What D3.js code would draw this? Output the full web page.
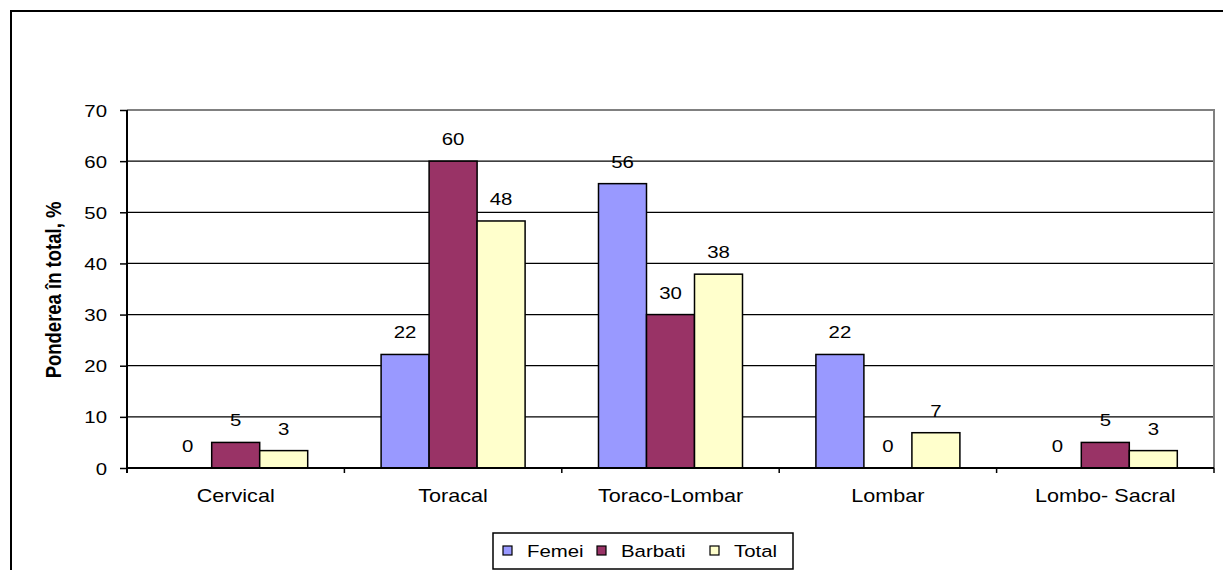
<!DOCTYPE html>
<html>
<head>
<meta charset="utf-8">
<script src="https://cdn.jsdelivr.net/npm/d3@7"></script>
<style>
  html, body { margin: 0; padding: 0; background: #fff; }
  svg { display: block; font-family: "Liberation Sans", Arial, sans-serif; }
</style>
</head>
<body>
<svg id="chart" width="1223" height="570"></svg>
<script>
// Spinal injury level, share of total (%)
const categories = ["Cervical", "Toracal", "Toraco-Lombar", "Lombar", "Lombo- Sacral"];
const seriesNames = ["Femei", "Barbati", "Total"];
const femei   = [0, 22.2, 55.6, 22.2, 0];
const barbati = [5, 60, 30, 0, 5];
const total   = [3.4, 48.3, 37.9, 6.9, 3.4];
const yTicks  = [0, 10, 20, 30, 40, 50, 60, 70];
const colors  = ["#9999FF", "#993366", "#FFFFCC"];

const series = [femei, barbati, total];
const svg = d3.select("#chart");

const plot = { left: 127, right: 1214, top: 110, bottom: 468 };
const SX = 1.2; // horizontal glyph stretch

// outer frame
svg.append("rect")
  .attr("x", 11).attr("y", 11).attr("width", 1240).attr("height", 600)
  .attr("fill", "none").attr("stroke", "#000").attr("stroke-width", 2);

const x = d3.scaleBand().domain(categories).range([plot.left, plot.right]).padding(0);
const groupW = 144;
const xs = d3.scaleBand().domain(seriesNames).range([0, groupW]).padding(0);
const y = d3.scaleLinear().domain([0, 70]).range([plot.bottom, plot.top]);

// gridlines
svg.append("g").selectAll("line").data(yTicks.filter(t => t > 0 && t < 70)).join("line")
  .attr("x1", plot.left).attr("x2", plot.right)
  .attr("y1", d => y(d)).attr("y2", d => y(d))
  .attr("stroke", "#000").attr("stroke-width", 1.3);

// plot border (top & right)
svg.append("path")
  .attr("d", `M${plot.left},${y(70)}H${plot.right}V${plot.bottom}`)
  .attr("fill", "none").attr("stroke", "#808080").attr("stroke-width", 2);

// bars
const gBars = svg.append("g");
categories.forEach((c, i) => {
  const gx = x(c) + (x.bandwidth() - groupW) / 2;
  series.forEach((s, j) => {
    const v = s[i];
    const bx = gx + xs(seriesNames[j]);
    if (v > 0) {
      gBars.append("rect")
        .attr("x", bx).attr("y", y(v))
        .attr("width", xs.bandwidth()).attr("height", y(0) - y(v))
        .attr("fill", colors[j]).attr("stroke", "#000").attr("stroke-width", 1.5);
    }
    gBars.append("text")
      .attr("transform", `translate(${bx + xs.bandwidth() / 2},${y(v) - 16}) scale(${SX},1)`)
      .attr("text-anchor", "middle").attr("font-size", 17)
      .text(d3.format(".0f")(v));
  });
});

// y axis
const yAxis = svg.append("g").attr("transform", `translate(${plot.left},0)`)
  .call(d3.axisLeft(y).tickValues(yTicks).tickSize(7).tickFormat(""));
yAxis.select(".domain").attr("stroke", "#000").attr("stroke-width", 2)
  .attr("d", `M0,${y(70)}V${y(0) + 5}`);
yAxis.selectAll(".tick line").attr("stroke", "#000").attr("stroke-width", 1.5);
yAxis.selectAll(".tick").append("text")
  .attr("fill", "#000").attr("font-size", 17).attr("text-anchor", "end")
  .attr("transform", `translate(-20,6) scale(${SX},1)`)
  .text(d => d);

// x axis
const xAxis = svg.append("g").attr("transform", `translate(0,${plot.bottom})`);
xAxis.append("line").attr("x1", plot.left).attr("x2", plot.right)
  .attr("stroke", "#000").attr("stroke-width", 2);
const bounds = categories.map(c => x(c)).concat([plot.right]);
xAxis.selectAll("line.tk").data(bounds).join("line").attr("class", "tk")
  .attr("x1", d => d).attr("x2", d => d).attr("y1", 0).attr("y2", 5)
  .attr("stroke", "#000").attr("stroke-width", 1.5);
xAxis.selectAll("text").data(categories).join("text")
  .attr("transform", d => `translate(${x(d) + x.bandwidth() / 2},34) scale(${SX},1)`)
  .attr("text-anchor", "middle").attr("font-size", 18)
  .text(d => d);

// y axis title
svg.append("text")
  .attr("transform", `translate(61,290) rotate(-90) scale(1,${SX})`)
  .attr("text-anchor", "middle").attr("font-size", 18.5).attr("font-weight", "bold")
  .text("Ponderea în total, %");

// legend
const lg = svg.append("g");
lg.append("rect").attr("x", 493).attr("y", 533).attr("width", 300).attr("height", 36)
  .attr("fill", "#fff").attr("stroke", "#000").attr("stroke-width", 1.5);
const swX = [503, 597, 710];
seriesNames.forEach((n, j) => {
  lg.append("rect").attr("x", swX[j]).attr("y", 546).attr("width", 9).attr("height", 9)
    .attr("fill", colors[j]).attr("stroke", "#000").attr("stroke-width", 1.2);
  lg.append("text")
    .attr("transform", `translate(${swX[j] + 24},557) scale(${SX},1)`)
    .attr("font-size", 17).text(n);
});
</script>
</body>
</html>
